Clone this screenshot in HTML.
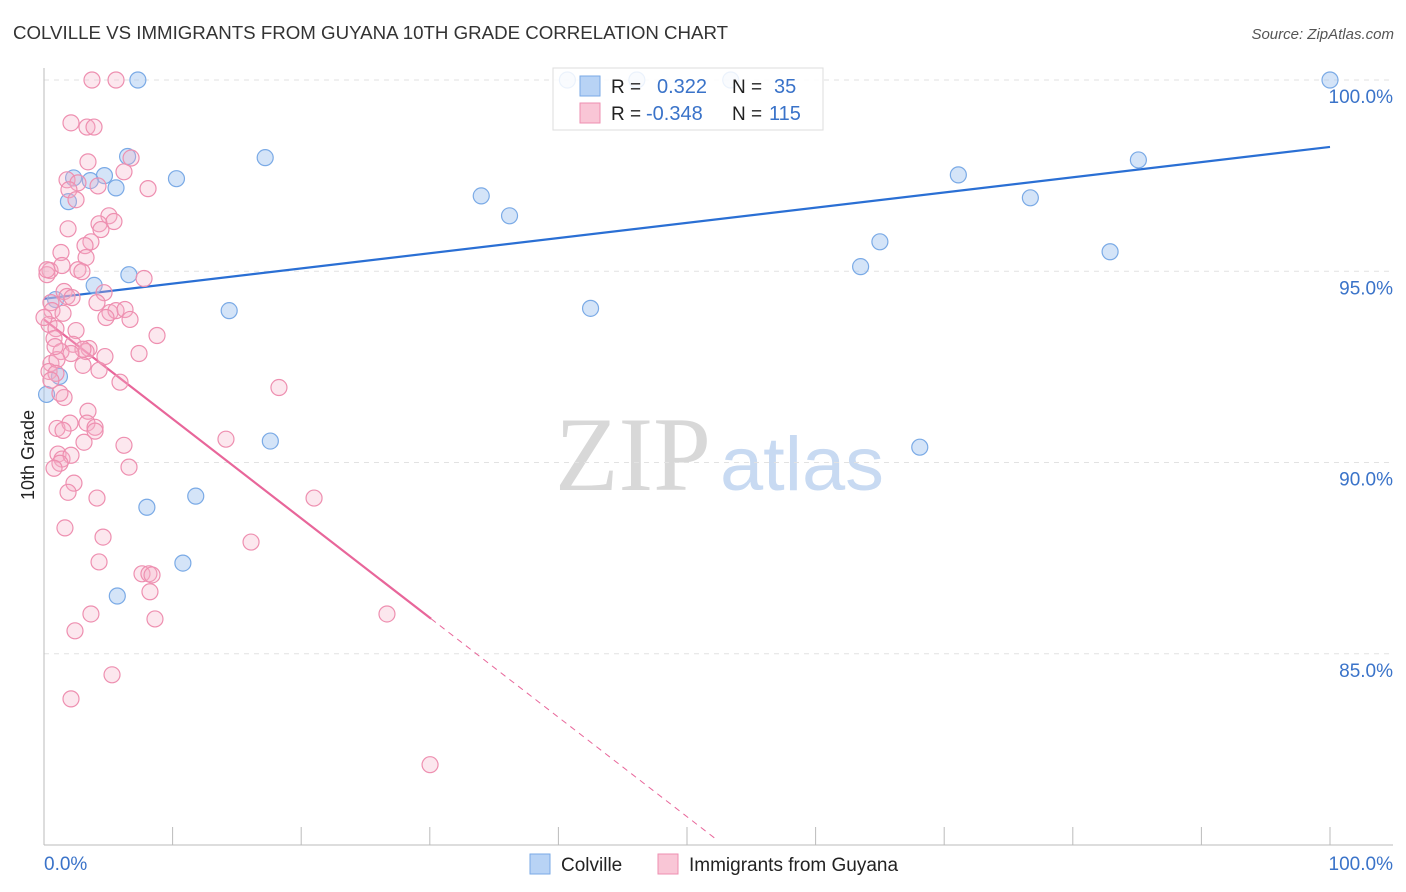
<!DOCTYPE html>
<html><head><meta charset="utf-8"><style>
body{margin:0;background:#fff;font-family:"Liberation Sans",sans-serif;}
svg{display:block}
</style></head><body>
<svg id="chart" width="1406" height="892" xmlns="http://www.w3.org/2000/svg">
<text x="13" y="39" font-size="18.7" fill="#333" font-family="Liberation Sans, sans-serif">COLVILLE VS IMMIGRANTS FROM GUYANA 10TH GRADE CORRELATION CHART</text>
<text x="1394" y="39" font-size="15" fill="#555" text-anchor="end" font-style="italic">Source: ZipAtlas.com</text>
<g>
<text x="633" y="490" font-size="106" fill="#d8d8d8" text-anchor="middle" font-family="Liberation Serif, serif" textLength="156" lengthAdjust="spacingAndGlyphs">ZIP</text>
<text x="802" y="490" font-size="76" fill="#c8daf2" text-anchor="middle" textLength="164" lengthAdjust="spacingAndGlyphs">atlas</text>
</g>
<g id="grid"></g><g id="axes"></g><g id="lines"></g><g id="pts"></g>
<text transform="translate(34,455) rotate(-90)" font-size="18" fill="#222" text-anchor="middle">10th Grade</text>
<g>
<rect x="553" y="68" width="270" height="62" fill="#fff" fill-opacity="0.85" stroke="#ddd"/>
<rect x="580" y="76" width="20" height="20" fill="#b8d3f5" stroke="#7aaae6"/>
<rect x="580" y="103" width="20" height="20" fill="#f9c6d6" stroke="#ee8fb0"/>
<text x="611" y="93" font-size="19" fill="#222">R =</text>
<text x="657" y="93" font-size="20" fill="#3a73c9">0.322</text>
<text x="732" y="93" font-size="19" fill="#222">N =</text>
<text x="774" y="93" font-size="20" fill="#3a73c9">35</text>
<text x="611" y="120" font-size="19" fill="#222">R =</text>
<text x="646" y="120" font-size="20" fill="#3a73c9">-0.348</text>
<text x="732" y="120" font-size="19" fill="#222">N =</text>
<text x="769" y="120" font-size="20" fill="#3a73c9">115</text>
</g>
<g>
<rect x="530" y="854" width="20" height="20" fill="#b8d3f5" stroke="#7aaae6"/>
<text x="561" y="871" font-size="19" fill="#222">Colville</text>
<rect x="658" y="854" width="20" height="20" fill="#f9c6d6" stroke="#ee8fb0"/>
<text x="689" y="871" font-size="19" fill="#222">Immigrants from Guyana</text>
</g>
</svg>
<script>
const yTicks=[100,95,90,85];
const yTickLabels=["100.0%","95.0%","90.0%","85.0%"];
const xTicks=[0,10,20,30,40,50,60,70,80,90,100];
const blueX=[7.3,40.7,46.1,53.4,100,6.5,17.2,2.3,4.7,3.6,5.6,10.3,1.9,34.0,36.2,71.1,76.7,85.1,65.0,63.5,82.9,6.6,3.9,0.9,14.4,42.5,1.2,0.2,17.6,68.1,11.8,8.0,10.8,5.7];
const blueY=[100,100,100,100,100,98.0,97.97,97.44,97.5,97.37,97.18,97.42,96.82,96.97,96.45,97.52,96.92,97.91,95.77,95.12,95.51,94.91,94.63,94.26,93.97,94.03,92.25,91.78,90.56,90.4,89.12,88.83,87.37,86.51];
const pinkX=[3.73,5.6,2.1,3.34,3.89,3.42,6.77,6.22,1.79,2.64,1.94,4.2,8.09,2.49,5.05,5.44,4.28,4.43,1.87,3.65,3.19,1.32,3.27,0.47,1.4,2.64,2.95,0.23,7.78,1.56,4.67,1.79,4.12,0.54,2.18,5.13,5.6,6.3,4.82,6.69,0.62,1.48,0.39,0.93,2.49,8.79,0.78,2.26,3.5,3.27,3.03,1.32,2.1,4.74,7.39,0.54,1.01,3.03,4.28,0.39,0.93,0.54,5.91,18.27,1.56,3.42,3.34,1.01,2.02,3.97,3.97,14.15,3.11,6.22,1.09,1.4,2.1,1.24,0.78,6.61,2.33,1.87,4.12,21.0,1.63,4.59,16.1,4.28,7.62,8.16,8.4,8.24,8.63,3.65,2.41,26.67,5.29,2.1,30.02,0.23,0.86,1.24,1.48,0];
const pinkY=[100,100,98.88,98.77,98.77,97.86,97.96,97.6,97.39,97.31,97.13,97.23,97.16,96.87,96.45,96.3,96.24,96.09,96.11,95.77,95.67,95.49,95.36,95.02,95.15,95.04,94.99,94.91,94.81,94.47,94.44,94.34,94.18,94.18,94.31,93.92,93.97,94.0,93.79,93.74,93.97,93.9,93.61,93.5,93.45,93.32,93.24,93.09,92.98,92.9,92.96,92.9,92.85,92.77,92.85,92.59,92.69,92.54,92.41,92.38,92.33,92.15,92.1,91.96,91.7,91.34,91.03,90.89,91.03,90.92,90.82,90.61,90.53,90.45,90.22,90.09,90.19,89.98,89.85,89.88,89.46,89.22,89.07,89.07,88.29,88.05,87.92,87.4,87.09,87.09,87.06,86.62,85.91,86.04,85.6,86.04,84.45,83.82,82.1,95.04,93.03,91.81,90.84,93.79];
const blueFit=[94.28,98.25];
const pinkFit=[93.74,-0.26];
const NS="http://www.w3.org/2000/svg";
const xS=v=>44+v*12.86;
const yS=v=>80+(100-v)*38.25;
function mk(tag,attrs,parent){const e=document.createElementNS(NS,tag);for(const k in attrs)e.setAttribute(k,attrs[k]);parent.appendChild(e);return e;}
const grid=document.getElementById('grid'),axes=document.getElementById('axes'),lines=document.getElementById('lines'),pts=document.getElementById('pts');
yTicks.forEach((t,i)=>{
 const l=mk('line',{x1:44,x2:1393,y1:yS(t),y2:yS(t),stroke:'#e2e2e2','stroke-dasharray':'5,5'},grid);
 
 
 const tx=mk('text',{x:1393,y:yS(t)+23,'font-size':19,fill:'#3a73c9','text-anchor':'end'},axes);
 tx.textContent=yTickLabels[i];
 
 
});
const ax=mk('line',{x1:44,x2:1393,y1:845,y2:845,stroke:'#bbb'},axes);


const ay=mk('line',{x1:44,x2:44,y1:68,y2:845,stroke:'#bbb'},axes);


xTicks.forEach(t=>{
 const l=mk('line',{x1:xS(t),x2:xS(t),y1:827,y2:845,stroke:'#bbb'},axes);
 
 
});
[[0,'0.0%','start',44],[100,'100.0%','end',1393]].forEach(a=>{
 const tx=mk('text',{x:a[3],y:870,'font-size':19,fill:'#3a73c9','text-anchor':a[2]},axes);
 tx.textContent=a[1];
 
 
});
blueX.forEach((x,i)=>{
 const c=mk('circle',{cx:xS(x),cy:yS(blueY[i]),r:8,fill:'rgba(160,196,240,0.45)',stroke:'#7aaae6','stroke-width':1.2},pts);
 
 
});
pinkX.forEach((x,i)=>{
 const c=mk('circle',{cx:xS(x),cy:yS(pinkY[i]),r:8,fill:'rgba(245,175,200,0.3)',stroke:'#ee8fb0','stroke-width':1.2},pts);
 
 
});
const bl=mk('line',{x1:xS(0),y1:yS(blueFit[0]),x2:xS(100),y2:yS(blueFit[1]),stroke:'#2a6fd4','stroke-width':2.2},lines);


const pEnd=30.1,pDash=52.4;
const pl=mk('line',{x1:xS(0),y1:yS(pinkFit[0]),x2:xS(pEnd),y2:yS(pinkFit[0]+pinkFit[1]*pEnd),stroke:'#e8669a','stroke-width':2.2},lines);


const pd=mk('line',{x1:xS(pEnd),y1:yS(pinkFit[0]+pinkFit[1]*pEnd),x2:xS(pDash),y2:yS(pinkFit[0]+pinkFit[1]*pDash),stroke:'#e8669a','stroke-width':1,'stroke-dasharray':'6,5'},lines);


</script>
</body></html>
